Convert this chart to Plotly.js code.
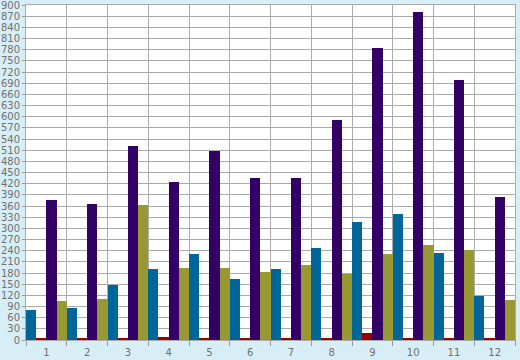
<!DOCTYPE html>
<html>
<head>
<meta charset="utf-8">
<script src="https://cdn.plot.ly/plotly-3.0.1.min.js"></script>
<style>html,body{margin:0;padding:0;background:#d8eef6;}#chart{width:520px;height:360px;}</style>
</head>
<body>
<div id="chart"></div>
<script>
const categories = ['1','2','3','4','5','6','7','8','9','10','11','12'];
const seriesBlue   = [80, 86, 148, 191, 231, 164, 191, 248, 318, 339, 234, 118];
const seriesRed    = [5, 5, 5, 8, 5, 5, 5, 5, 19, 5, 5, 5];
const seriesPurple = [375, 366, 520, 425, 509, 436, 435, 592, 785, 882, 699, 383];
const seriesOlive  = [105, 110, 363, 194, 193, 183, 202, 178, 231, 255, 242, 107];
const yTickVals = [0,30,60,90,120,150,180,210,240,270,300,330,360,390,420,450,480,510,540,570,600,630,660,690,720,750,780,810,840,870,900];

const colors = ['#006699', '#990000', '#330066', '#999933'];
const allSeries = [seriesBlue, seriesRed, seriesPurple, seriesOlive];
const traces = allSeries.map((vals, i) => ({
  type: 'bar', x: categories, y: vals,
  marker: {color: colors[i], line: {width: 0}},
  hoverinfo: 'none'
}));

const layout = {
  width: 520, height: 360,
  margin: {l: 26, r: 5, t: 5, b: 20, pad: 0},
  paper_bgcolor: '#d8eef6',
  plot_bgcolor: '#ffffff',
  showlegend: false,
  barmode: 'group', bargap: 0, bargroupgap: 0,
  font: {family: 'DejaVu Sans', size: 10, color: '#707070'},
  xaxis: {
    type: 'category', tickson: 'boundaries',
    showgrid: true, gridcolor: '#aaaaaa', gridwidth: 1,
    ticks: 'outside', ticklen: 5, tickcolor: '#999999',
    ticklabelstandoff: 3,
    showline: true, linecolor: '#aaaaaa', mirror: true,
    tickfont: {family: 'DejaVu Sans', size: 10, color: '#707070'},
    fixedrange: true
  },
  yaxis: {
    range: [0, 900], tickvals: yTickVals, ticktext: yTickVals.map(String),
    ticklabeloverflow: 'allow',
    showgrid: true, gridcolor: '#aaaaaa', gridwidth: 1,
    ticks: 'outside', ticklen: 3, tickcolor: '#999999',
    showline: true, linecolor: '#aaaaaa', mirror: true,
    zeroline: false,
    tickfont: {family: 'DejaVu Sans', size: 10, color: '#707070'},
    fixedrange: true
  }
};
Plotly.newPlot('chart', traces, layout, {displayModeBar: false, staticPlot: true});
</script>
</body>
</html>
